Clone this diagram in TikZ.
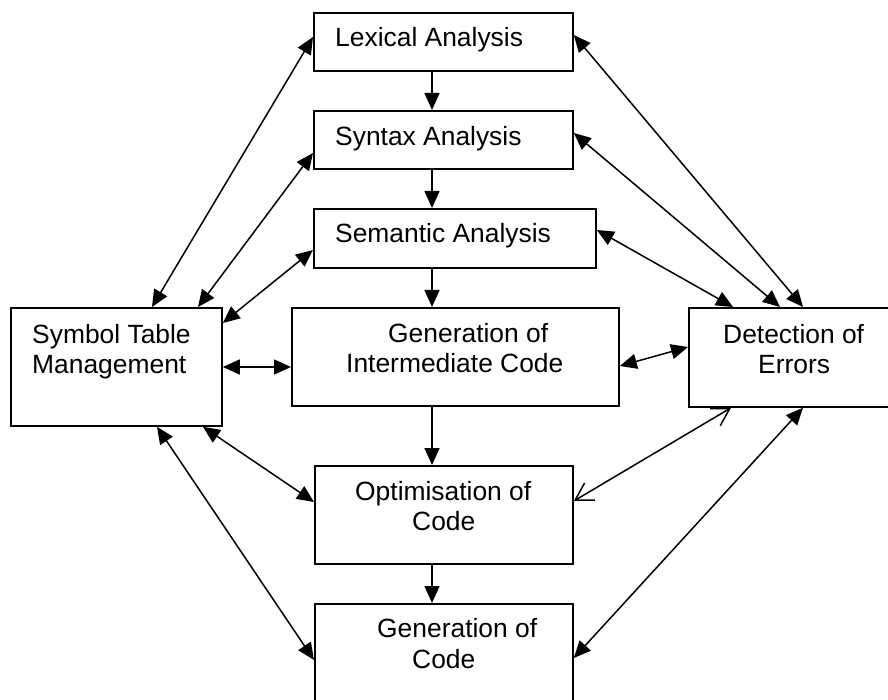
\documentclass[tikz,border=0pt]{standalone}
\usepackage{fontspec}
\setmainfont{Liberation Sans}
\usetikzlibrary{arrows.meta,calc}
\tikzset{
  box/.style={draw,line width=1.8pt,inner sep=0pt,anchor=north west},
  lbl/.style={anchor=base west,inner sep=0pt,font=\fontsize{26.4}{30}\selectfont},
  conn/.style={line width=1.5pt},
  one/.style={conn,-{Triangle[length=17pt,width=15pt]}},
  dbl/.style={conn,{Triangle[length=17pt,width=15pt]}-{Triangle[length=17pt,width=15pt]}},
  openbar/.style={conn,{Straight Barb[length=17pt,width=20pt,line width=1.5pt]}-{Straight Barb[length=17pt,width=20pt,line width=1.5pt]}}
}
\begin{document}
\begin{tikzpicture}[x=1pt,y=-1pt]
\useasboundingbox (0,0) rectangle (888,700);
\clip (0,0) rectangle (888,700);
\fill[white] (0,0) rectangle (888,700);
% boxes
\node[box,minimum width=259pt,minimum height=58pt] (lex) at (313,12) {};
\node[box,minimum width=259pt,minimum height=58pt] (syn) at (313,110) {};
\node[box,minimum width=282pt,minimum height=59pt] (sem) at (313,208) {};
\node[box,minimum width=327pt,minimum height=98pt] (gim) at (291,307) {};
\node[box,minimum width=211pt,minimum height=118pt] (sym) at (10,307) {};
\node[box,minimum width=220pt,minimum height=99pt] (det) at (688,307) {};
\node[box,minimum width=258pt,minimum height=98pt] (opt) at (314,465) {};
\node[box,minimum width=258pt,minimum height=120pt] (gen) at (314,603) {};
% texts
\node[lbl] (tlex) at (335,47) {Lexical Analysis};
\node[lbl] (tsyn) at (335,146) {Syntax Analysis};
\node[lbl] (tsem) at (335,243) {Semantic Analysis};
\node[lbl] (tgim1) at (388,342) {Generation of};
\node[lbl] (tgim2) at (346,372) {Intermediate Code};
\node[lbl] (tsym1) at (32,343) {Symbol Table};
\node[lbl] (tsym2) at (32,373) {Management};
\node[lbl] (tdet1) at (723,343) {Detection of};
\node[lbl] (tdet2) at (758,373) {Errors};
\node[lbl] (topt1) at (355,500) {Optimisation of};
\node[lbl] (topt2) at (412,530) {Code};
\node[lbl] (tgen1) at (377,637) {Generation of};
\node[lbl] (tgen2) at (412,668) {Code};
% vertical flow
\draw[one] ($(lex.south west)+(119,0)$) -- ($(syn.north west)+(119,0)$);
\draw[one] ($(syn.south west)+(119,0)$) -- ($(sem.north west)+(119,0)$);
\draw[one] ($(sem.south west)+(119,0)$) -- ($(gim.north west)+(141,0)$);
\draw[one] ($(gim.south west)+(141,0)$) -- ($(opt.north west)+(118,0)$);
\draw[one] ($(opt.south west)+(118,0)$) -- ($(gen.north west)+(118,0)$);
% horizontal
\draw[dbl] ($(sym.north east)+(0,60)$) -- ($(gim.north west)+(0,60)$);
\draw[dbl] ($(gim.north east)+(0,59)$) -- ($(det.north west)+(0,40)$);
% symbol table links
\draw[dbl] ($(sym.north west)+(142,0)$) -- ($(lex.north west)+(0,25)$);
\draw[dbl] ($(sym.north west)+(188,0)$) -- ($(syn.north west)+(0,43)$);
\draw[dbl] ($(sym.north east)+(0,16)$) -- ($(sem.north west)+(0,42)$);
\draw[dbl] ($(sym.south west)+(147,0)$) -- ($(gen.north west)+(0,57)$);
\draw[dbl] ($(sym.south west)+(193,0)$) -- ($(opt.north west)+(0,37)$);
% error detection links
\draw[dbl] ($(det.north west)+(115,0)$) -- ($(lex.north east)+(0,23)$);
\draw[dbl] ($(det.north west)+(92,0)$) -- ($(syn.north east)+(0,23)$);
\draw[dbl] ($(det.north west)+(45,0)$) -- ($(sem.north east)+(0,22)$);
\draw[openbar] ($(det.south west)+(43,0)$) -- ($(opt.north east)+(0,36)$);
\draw[dbl] ($(det.south west)+(115,0)$) -- ($(gen.north east)+(0,55)$);
\end{tikzpicture}
\end{document}
